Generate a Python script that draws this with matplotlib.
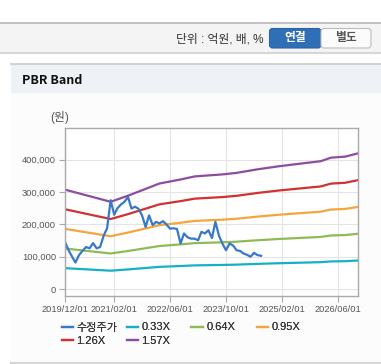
import matplotlib
matplotlib.use('Agg')
import matplotlib.pyplot as plt
from matplotlib.patches import Rectangle, FancyBboxPatch
from matplotlib.ticker import FuncFormatter
import pandas as pd

plt.rcParams['font.family'] = ['Liberation Sans', 'Noto Sans CJK KR', 'DejaVu Sans']

# 수정주가 (monthly, from 2019/12)
price_start = '2019-12-01'
price = [146000, 120000, 100000, 82000, 105000, 118000, 130000, 126000, 142000, 126000,
         130000, 165000, 188000, 275000, 230000, 250000, 262000, 270000, 285000, 249000,
         255000, 248000, 228000, 192000, 228000, 198000, 208000, 203000, 210000, 200000,
         187000, 188000, 186000, 141000, 172000, 160000, 156000, 156000, 151000, 177000,
         172000, 182000, 158000, 208000, 165000, 140000, 120000, 141000, 135000, 120000,
         118000, 110000, 106000, 100000, 112000, 105000, 103000]

# BPS (원) at knot dates, bands = BPS x multiple
bps_dates = ['2019-12-01', '2021-01-01', '2021-06-01', '2022-03-01', '2022-09-01',
             '2023-01-01', '2023-09-01', '2024-01-01', '2024-07-01', '2025-01-01',
             '2025-07-01', '2026-01-01', '2026-04-01', '2026-08-01', '2026-12-01']
bps = [196000, 172000, 184000, 208000, 216000, 222000, 226000, 229000, 236000, 242000,
       247000, 252000, 259000, 261000, 268000]
multiples = [0.33, 0.64, 0.95, 1.26, 1.57]
band_labels = ['0.33X', '0.64X', '0.95X', '1.26X', '1.57X']
band_colors = ['#17afc6', '#8dbb57', '#f4a53b', '#d03131', '#8d4c9f']
price_color = '#3878c8'

tick_dates = ['2019-12-01', '2021-02-01', '2022-06-01', '2023-10-01', '2025-02-01', '2026-06-01']
tick_labels = ['2019/12/01', '2021/02/01', '2022/06/01', '2023/10/01', '2025/02/01', '2026/06/01']
y_ticks = [0, 100000, 200000, 300000, 400000]

W, H = 381, 364
fig = plt.figure(figsize=(W / 100, H / 100), dpi=100)
fig.patch.set_facecolor('white')

# page decoration in pixel coordinates
bg = fig.add_axes([0, 0, 1, 1], zorder=0)
bg.set_xlim(0, W)
bg.set_ylim(H, 0)
bg.axis('off')
bg.add_patch(Rectangle((0, 22), W, 31, facecolor='#f4f4f4', edgecolor='none'))
bg.plot([0, W], [22.5, 22.5], color='#b8b8b8', lw=1.2)
bg.plot([0, W], [53, 53], color='#d6d6d6', lw=1.5)
bg.text(263, 40, '단위 : 억원, 배, %', ha='right', va='center', fontsize=8.5, color='#333333')
bg.add_patch(FancyBboxPatch((269.5, 28.5), 51.5, 19.5, boxstyle='round,pad=0,rounding_size=3',
                            facecolor='#2f6fb5', edgecolor='#2a64a6', lw=0.8))
bg.add_patch(FancyBboxPatch((321, 28.5), 50, 19.5, boxstyle='round,pad=0,rounding_size=3',
                            facecolor='#fbfbfb', edgecolor='#bdbdbd', lw=0.8))
bg.text(295, 38.5, '연결', ha='center', va='center', fontsize=8.5, color='white', fontweight='bold')
bg.text(346, 38.5, '별도', ha='center', va='center', fontsize=8.5, color='#555555', fontweight='bold')

bg.add_patch(Rectangle((11, 64), W - 11, 299, facecolor='#fcfcfc', edgecolor='none'))
bg.add_patch(Rectangle((11, 64), W - 11, 29, facecolor='#eef2f7', edgecolor='none'))
bg.plot([11, W], [64, 64], color='#d4d4d4', lw=1.5)
bg.plot([11, W], [362.5, 362.5], color='#d4d4d4', lw=1.5)
bg.text(22, 80, 'PBR Band', ha='left', va='center', fontsize=9, color='#111111',
        fontweight='bold', family=['Noto Sans CJK KR', 'DejaVu Sans'])
bg.text(60, 118, '(원)', ha='center', va='center', fontsize=8.5, color='#555555')

# chart
ax = fig.add_axes([65 / W, 1 - 295.5 / H, 293 / W, 168 / H], zorder=1)
ax.set_facecolor('white')

price_dates = pd.date_range(price_start, periods=len(price), freq='MS')
band_x = pd.to_datetime(bps_dates)
band_lines = []
for m, lab, col in zip(multiples, band_labels, band_colors):
    ln, = ax.plot(band_x, [b * m for b in bps], color=col, lw=1.6, label=lab)
    band_lines.append(ln)
price_line, = ax.plot(price_dates, price, color=price_color, lw=1.6, label='수정주가')

ax.set_xlim(pd.Timestamp('2019-12-01'), pd.Timestamp('2026-11-22'))
ax.set_ylim(-20000, 500000)
ax.set_xticks(pd.to_datetime(tick_dates))
ax.set_xticklabels(tick_labels)
ax.set_yticks(y_ticks)
ax.yaxis.set_major_formatter(FuncFormatter(lambda v, p: f'{v:,.0f}'))
ax.grid(True, color='#e4e4e4', lw=0.8)
ax.set_axisbelow(True)
for s in ax.spines.values():
    s.set_color('#aaaaaa')
    s.set_linewidth(1)
ax.tick_params(axis='both', colors='#aaaaaa', labelcolor='#555555', labelsize=6.7, length=4.5, width=0.8)
ax.tick_params(axis='x', pad=2.5)
ax.tick_params(axis='y', pad=2)

# legend columns
handles = [price_line] + band_lines
cols = [[0, 4], [1, 5], [2], [3]]
col_x = [61.5, 126.5, 191.5, 256.5]
for idx, cx in zip(cols, col_x):
    leg = fig.legend([handles[i] for i in idx], [handles[i].get_label() for i in idx],
                     loc='upper left', bbox_to_anchor=(cx / W, 1 - 322.5 / H), frameon=False,
                     fontsize=8, handlelength=1.0, handletextpad=0.35, labelspacing=0.3,
                     borderpad=0, borderaxespad=0, labelcolor='#333333')
    fig.add_artist(leg)

fig.savefig('out.png', dpi=100)
